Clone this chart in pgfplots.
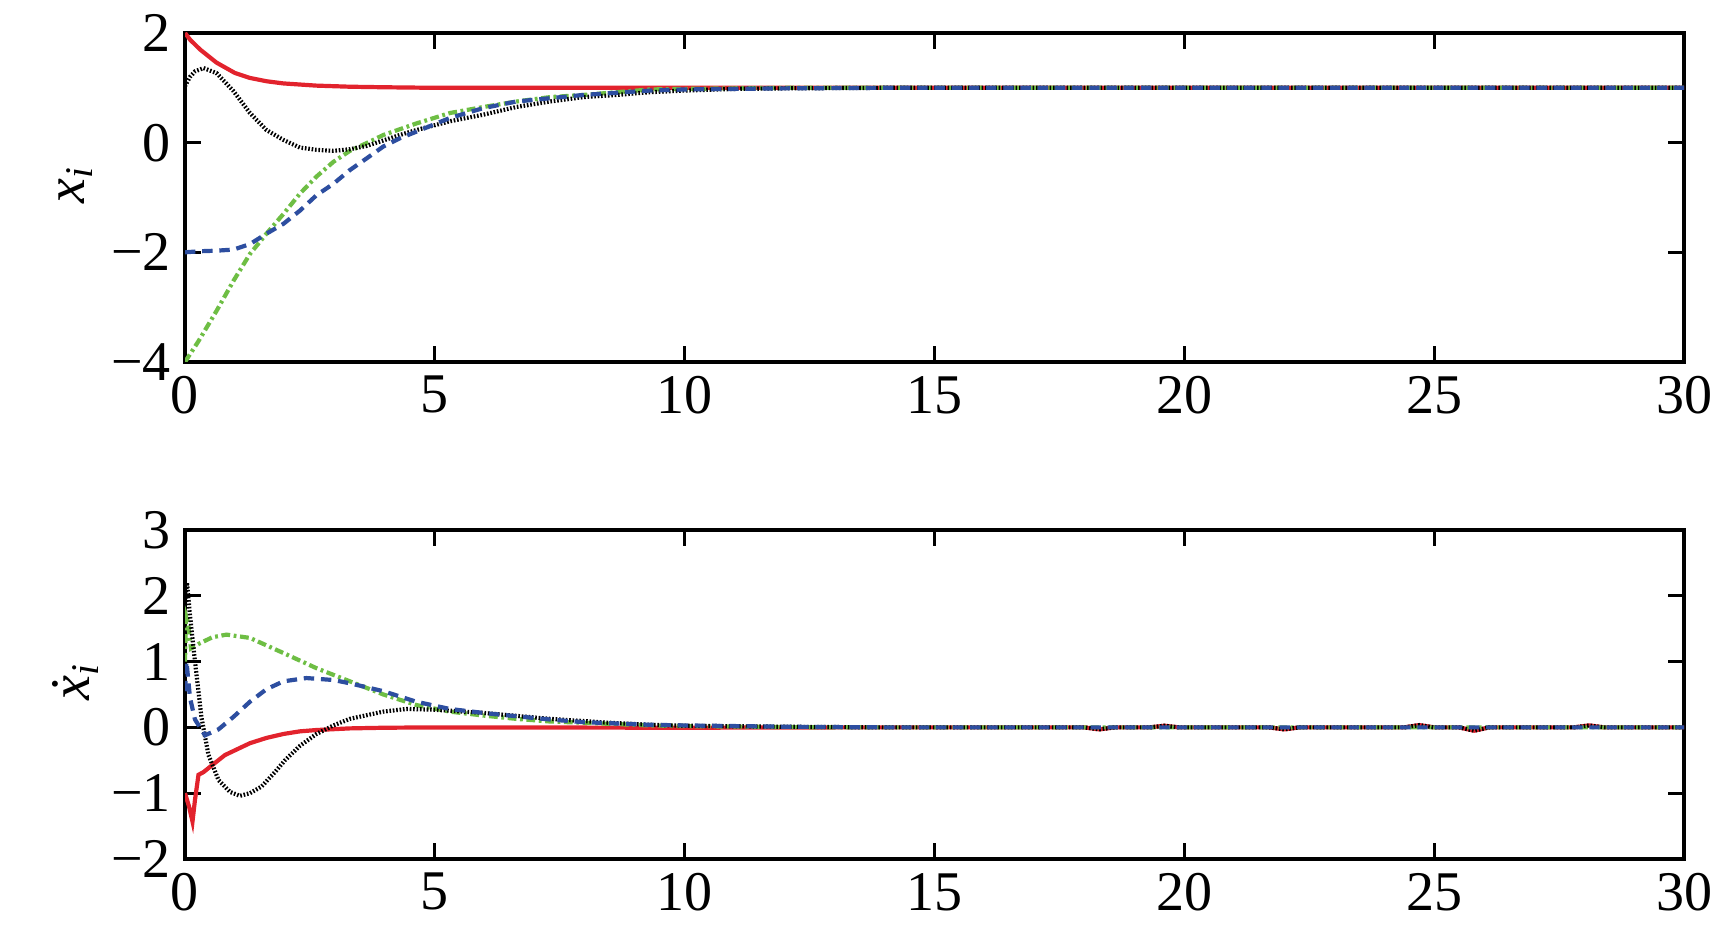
\documentclass[border=0pt]{standalone}
\usepackage{fontspec}
\setmainfont{Liberation Serif}
\usepackage{pgfplots}
\pgfplotsset{compat=1.18}

\definecolor{cred}{RGB}{226,35,45}
\definecolor{cblue}{RGB}{45,78,160}
\definecolor{cgreen}{RGB}{110,190,68}

\pgfplotsset{
  base/.style={
    width=374.75pt, height=82.25pt, scale only axis,
    xmin=0, xmax=30,
    xtick={0,5,...,30},
    xticklabels={0,5,10,15,20,25,30},
    axis line style={line width=0.8pt},
    every tick/.style={line width=0.8pt, black},
    major tick length=4pt,
    tick align=inside,
    tick label style={font=\fontsize{14}{16}\selectfont},
    label style={font=\fontsize{14}{16}\selectfont},
    ylabel style={at={(axis description cs:-0.073,0.54)}, anchor=center},
    clip=true,
  },
  sred/.style={cred, line width=1.05pt},
  sblack/.style={black, line width=1.05pt, dash pattern=on 0.4pt off 0.45pt},
  sblue/.style={cblue, line width=1.05pt, dash pattern=on 2.6pt off 1.7pt},
  sgreen/.style={cgreen, line width=1.05pt, dash pattern=on 2.2pt off 0.9pt on 0.7pt off 0.9pt},
}

\begin{document}
\begin{tikzpicture}
\begin{axis}[base,
  ymin=-4, ymax=2,
  ytick={-4,-2,0,2},
  yticklabels={−4,−2,0,2},
  ylabel={\textit{x}\textsubscript{\textit{i}}},
]
\addplot[sred] coordinates {
  (0,2.0) (0.1,1.88) (0.3,1.7) (0.63,1.46) (1.0,1.27) (1.3,1.18) (1.63,1.12)
  (1.97,1.08) (2.63,1.04) (3.3,1.02) (4,1.01) (5,1.0) (10,1.0) (30,1.0)
};
\addplot[sgreen] coordinates {
  (0,-4.0) (0.27,-3.62) (0.63,-3.07) (0.97,-2.52) (1.3,-2.03) (1.63,-1.66)
  (1.97,-1.3) (2.3,-0.93) (2.63,-0.62) (2.97,-0.35) (3.3,-0.15) (3.63,-0.01)
  (3.97,0.14) (4.63,0.35) (5.3,0.54) (5.97,0.65) (6.63,0.75) (7.3,0.83)
  (7.97,0.87) (9.3,0.97) (10,0.98) (12,1.0) (30,1.0)
};
\addplot[sblack] coordinates {
  (0,1.03) (0.1,1.2) (0.2,1.3) (0.37,1.36) (0.63,1.27) (0.97,0.94) (1.3,0.54)
  (1.63,0.23) (1.97,0.05) (2.3,-0.09) (2.63,-0.13) (2.97,-0.15) (3.3,-0.12)
  (3.63,-0.06) (3.97,0.04) (4.3,0.14) (4.63,0.23) (5.3,0.39) (5.97,0.51)
  (6.63,0.65) (7.3,0.75) (7.97,0.83) (8.63,0.87) (9.3,0.92) (10,0.95)
  (11,0.98) (12,0.99) (14,1.0) (30,1.0)
};
\addplot[sblue] coordinates {
  (0,-2.0) (0.3,-1.98) (0.63,-1.97) (0.97,-1.95) (1.3,-1.85) (1.63,-1.66)
  (1.97,-1.48) (2.3,-1.24) (2.63,-0.96) (2.97,-0.75) (3.3,-0.5) (3.63,-0.29)
  (3.97,-0.07) (4.3,0.08) (4.63,0.2) (5.3,0.45) (5.97,0.63) (6.63,0.75)
  (7.3,0.81) (7.97,0.87) (9.3,0.95) (10,0.97) (12,0.99) (14,1.0) (30,1.0)
};
\end{axis}

\begin{axis}[base, at={(0,-124.25pt)},
  ymin=-2, ymax=3,
  ytick={-2,-1,0,1,2,3},
  yticklabels={−2,−1,0,1,2,3},
  ylabel={\textit{\.{x}}\textsubscript{\textit{i}}},
]
\addplot[sred] coordinates {
  (0,-1.0) (0.08,-1.2) (0.15,-1.43) (0.2,-1.1) (0.27,-0.72) (0.37,-0.68)
  (0.5,-0.6) (0.8,-0.42) (1.3,-0.24) (1.63,-0.16) (1.97,-0.1) (2.3,-0.06)
  (2.63,-0.04) (3.3,-0.015) (4,-0.005) (5,0) (10,-0.005) (13,0) (18,0)
  (18.3,-0.03) (18.6,0) (19.3,0) (19.6,0.025) (19.9,0) (21.7,0) (22,-0.03)
  (22.3,0) (24.4,0) (24.7,0.035) (25.0,0) (25.5,0) (25.8,-0.05) (26.1,0)
  (27.8,0) (28.1,0.03) (28.4,0) (30,0)
};
\addplot[sgreen] coordinates {
  (0,1.0) (0.02,1.7) (0.06,1.6) (0.12,1.2) (0.3,1.28) (0.55,1.37) (0.83,1.41)
  (1.3,1.36) (1.97,1.13) (2.63,0.9) (3.3,0.7) (3.97,0.5) (4.63,0.34)
  (5.3,0.24) (5.97,0.18) (6.63,0.13) (7.3,0.09) (7.97,0.07) (9.3,0.03)
  (10,0.02) (12,0.005) (14,0) (30,0)
};
\addplot[sblack] coordinates {
  (0,1.9) (0.04,2.2) (0.1,1.7) (0.2,1.0) (0.33,0.15) (0.47,-0.42) (0.67,-0.8)
  (0.9,-0.98) (1.1,-1.04) (1.3,-1.0) (1.53,-0.9) (1.8,-0.68) (2.0,-0.5)
  (2.3,-0.28) (2.63,-0.1) (2.97,0.03) (3.3,0.13) (3.97,0.24) (4.43,0.28)
  (4.97,0.27) (5.97,0.22) (7.3,0.13) (8.5,0.07) (9.3,0.04) (10,0.025)
  (12,0.01) (14,0) (18,0) (18.3,-0.03) (18.6,0) (19.3,0) (19.6,0.025)
  (19.9,0) (21.7,0) (22,-0.03) (22.3,0) (24.4,0) (24.7,0.035) (25.0,0)
  (25.5,0) (25.8,-0.05) (26.1,0) (27.8,0) (28.1,0.03) (28.4,0) (30,0)
};
\addplot[sblue] coordinates {
  (0,0.55) (0.03,1.0) (0.1,0.45) (0.2,0.12) (0.4,-0.12) (0.67,-0.03)
  (0.97,0.16) (1.3,0.39) (1.63,0.58) (1.97,0.7) (2.43,0.75) (2.97,0.72)
  (3.3,0.67) (3.97,0.55) (4.63,0.39) (5.3,0.28) (5.97,0.22) (6.63,0.17)
  (7.3,0.12) (7.97,0.08) (9.3,0.04) (10,0.03) (12,0.01) (14,0) (30,0)
};
\end{axis}
\pgfresetboundingbox
\path[use as bounding box] (-46.25pt,-141.75pt) rectangle (386.75pt,90.5pt);
\end{tikzpicture}
\end{document}
